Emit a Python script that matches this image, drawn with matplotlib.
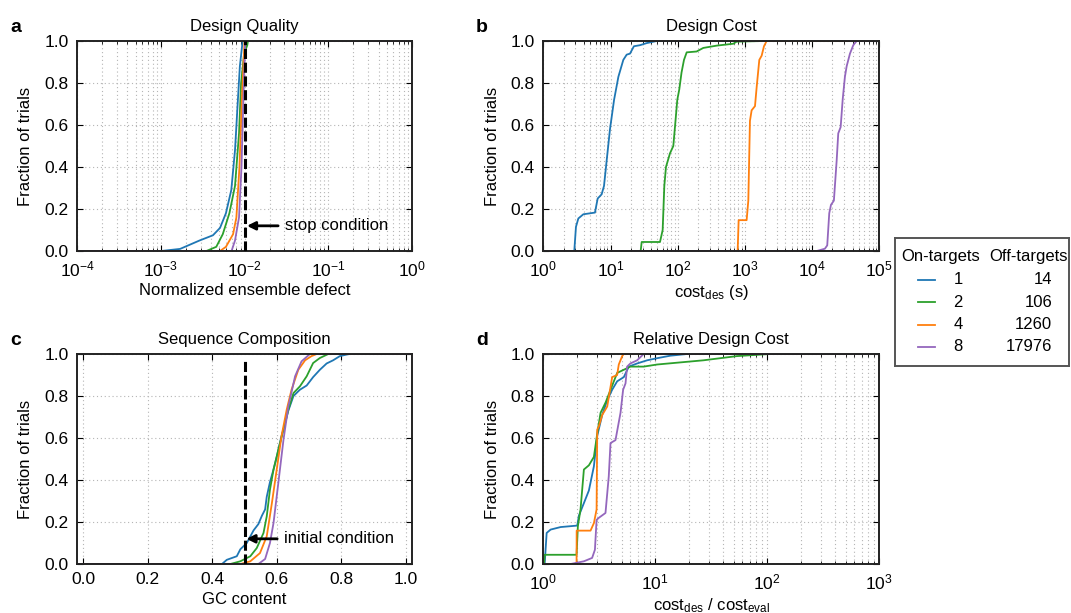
import numpy as np
import matplotlib
matplotlib.use("Agg")
import matplotlib.pyplot as plt

plt.rcParams["font.family"] = ["Liberation Sans", "DejaVu Sans"]
plt.rcParams["mathtext.fontset"] = "custom"
plt.rcParams["mathtext.rm"] = "Liberation Sans"
plt.rcParams["mathtext.it"] = "Liberation Sans:italic"
plt.rcParams["mathtext.bf"] = "Liberation Sans:bold"

colors = ["#1f77b4", "#2ca02c", "#ff7f0e", "#9467bd"]
on_targets = [1, 2, 4, 8]
off_targets = [14, 106, 1260, 17976]

# a: normalized ensemble defect (empirical CDFs)
qual_x = [
    [1.0e-3, 1.7e-3, 2.9e-3, 4.2e-3, 5.1e-3, 6.0e-3, 6.95e-3, 7.7e-3, 8.2e-3, 8.8e-3, 9.5e-3],
    [3.5e-3, 4.6e-3, 5.5e-3, 6.6e-3, 7.7e-3, 8.6e-3, 9.1e-3, 9.9e-3, 1.08e-2, 1.1e-2],
    [5.1e-3, 6.0e-3, 7.3e-3, 8.0e-3, 8.7e-3, 9.3e-3, 1.0e-2],
    [7.0e-3, 7.7e-3, 8.6e-3, 9.2e-3, 9.7e-3, 1.02e-2],
]
qual_y = [
    [0.0, 0.01, 0.05, 0.075, 0.11, 0.18, 0.29, 0.48, 0.67, 0.88, 1.0],
    [0.0, 0.02, 0.08, 0.18, 0.31, 0.56, 0.80, 0.94, 0.98, 1.0],
    [0.0, 0.02, 0.08, 0.16, 0.40, 0.72, 1.0],
    [0.0, 0.05, 0.16, 0.40, 0.72, 1.0],
]

# b: design cost in seconds
cost_x = [
    [2.89, 3.06, 3.32, 3.94, 5.87, 6.44, 7.38, 8.0, 8.76, 9.82, 11.3, 13.1, 15.5,
     17.4, 19.5, 22.3, 27.4, 34.5, 48.6],
    [28.1, 29.1, 54.5, 59.7, 63.2, 66.9, 76.7, 86.0, 91.0, 98.6, 105.6, 114, 124,
     136, 191, 240, 380, 672, 753, 1879],
    [780, 807, 1061, 1124, 1189, 1259, 1413, 1496, 1638, 1775, 1922, 2105],
    [11700, 15500, 16800, 18000, 19100, 21100, 23200, 24500, 26600, 28500, 30800,
     32700, 36600, 41000, 46000],
]
cost_y = [
    [0.0, 0.115, 0.155, 0.175, 0.183, 0.25, 0.27, 0.31, 0.43, 0.58, 0.72, 0.83, 0.91,
     0.935, 0.94, 0.975, 0.98, 0.99, 1.0],
    [0.0, 0.043, 0.043, 0.10, 0.31, 0.40, 0.465, 0.50, 0.59, 0.72, 0.77, 0.85, 0.91,
     0.946, 0.95, 0.967, 0.978, 0.987, 0.997, 1.0],
    [0.0, 0.147, 0.147, 0.24, 0.62, 0.67, 0.69, 0.78, 0.91, 0.93, 0.975, 1.0],
    [0.0, 0.011, 0.027, 0.18, 0.22, 0.24, 0.43, 0.56, 0.59, 0.72, 0.83, 0.88, 0.94,
     0.98, 1.0],
]

# c: GC content
gc_x = [
    [0.430, 0.445, 0.476, 0.487, 0.507, 0.528, 0.543, 0.554, 0.564, 0.569, 0.579,
     0.590, 0.600, 0.615, 0.626, 0.636, 0.652, 0.672, 0.693, 0.713, 0.734, 0.755,
     0.775, 0.796, 0.816, 0.827],
    [0.456, 0.487, 0.518, 0.538, 0.559, 0.569, 0.579, 0.590, 0.605, 0.621, 0.636,
     0.652, 0.672, 0.693, 0.713, 0.734, 0.760],
    [0.487, 0.518, 0.548, 0.569, 0.585, 0.600, 0.615, 0.631, 0.646, 0.667, 0.688,
     0.708, 0.724],
    [0.543, 0.564, 0.579, 0.590, 0.605, 0.621, 0.636, 0.657, 0.677, 0.703],
]
gc_y = [
    [0.0, 0.02, 0.037, 0.07, 0.10, 0.16, 0.19, 0.23, 0.26, 0.32, 0.39, 0.45, 0.51,
     0.61, 0.67, 0.73, 0.80, 0.83, 0.85, 0.89, 0.925, 0.955, 0.97, 0.99, 0.997, 1.0],
    [0.0, 0.013, 0.037, 0.076, 0.148, 0.227, 0.354, 0.449, 0.544, 0.64, 0.735, 0.814,
     0.846, 0.894, 0.957, 0.981, 1.0],
    [0.0, 0.013, 0.052, 0.132, 0.29, 0.45, 0.61, 0.735, 0.83, 0.925, 0.97, 0.99, 1.0],
    [0.0, 0.024, 0.10, 0.195, 0.386, 0.592, 0.75, 0.894, 0.965, 1.0],
]

# d: design cost relative to a single evaluation
rel_x = [
    [1.028, 1.071, 1.162, 1.427, 2.009, 2.078, 2.303, 2.552, 2.828, 3.028, 3.356,
     3.718, 4.120, 4.564, 5.233, 5.799, 6.879, 8.446, 10.37, 13.63, 19.19],
    [1.014, 1.028, 1.981, 2.035, 2.149, 2.303, 2.552, 2.828, 3.028, 3.245, 3.604,
     3.985, 4.564, 5.233, 5.99, 7.87, 10.37, 26.9, 53.5, 106],
    [1.636, 1.981, 1.985, 2.64, 2.83, 2.99, 3.03, 3.13, 3.36, 3.72, 4.12, 4.56, 4.72,
     5.06, 5.23],
    [1.751, 2.303, 2.727, 2.889, 2.99, 3.13, 3.59, 3.84, 3.98, 4.41, 4.89, 5.16, 5.42,
     5.60, 5.99, 6.88, 7.87],
]
rel_y = [
    [0.0, 0.148, 0.164, 0.176, 0.183, 0.23, 0.29, 0.35, 0.465, 0.61, 0.71, 0.78, 0.83,
     0.87, 0.89, 0.94, 0.955, 0.97, 0.98, 0.992, 1.0],
    [0.0, 0.044, 0.044, 0.18, 0.26, 0.45, 0.47, 0.51, 0.62, 0.72, 0.77, 0.83, 0.91,
     0.925, 0.94, 0.94, 0.95, 0.97, 0.99, 1.0],
    [0.0, 0.0, 0.159, 0.159, 0.195, 0.26, 0.64, 0.655, 0.71, 0.75, 0.89, 0.90, 0.95,
     0.99, 1.0],
    [0.0, 0.013, 0.029, 0.068, 0.21, 0.22, 0.243, 0.417, 0.576, 0.59, 0.72, 0.83, 0.86,
     0.94, 0.955, 0.97, 1.0],
]

panels = [
    ("a", "Design Quality", "Normalized ensemble defect", qual_x, qual_y, (1e-4, 1), True),
    ("b", "Design Cost", "cost$_{\\mathrm{des}}$ (s)", cost_x, cost_y, (1, 1e5), True),
    ("c", "Sequence Composition", "GC content", gc_x, gc_y, (-0.02, 1.02), False),
    ("d", "Relative Design Cost", "cost$_{\\mathrm{des}}$ / cost$_{\\mathrm{eval}}$",
     rel_x, rel_y, (1, 1e3), True),
]

fig = plt.figure(figsize=(10.71, 6.13), dpi=100)
positions = [
    [0.0719, 0.5905, 0.3128, 0.3426],
    [0.5073, 0.5905, 0.3137, 0.3426],
    [0.0719, 0.0799, 0.3128, 0.3426],
    [0.5073, 0.0799, 0.3137, 0.3426],
]

grid_kw = dict(ls=(0, (1, 2.5)), color="#b5b5b5", lw=0.8)

axes = []
for (letter, title, xlabel, xs, ys, xlim, logx), pos in zip(panels, positions):
    ax = fig.add_axes(pos)
    if logx:
        ax.set_xscale("log")
    for x, y, c in zip(xs, ys, colors):
        # extend each CDF flat to both edges of the axis
        xx = [xlim[0]] + list(x) + [xlim[1]]
        yy = [0.0] + list(y) + [1.0]
        ax.plot(xx, yy, color=c, lw=1.3)
    ax.set_xlim(*xlim)
    ax.set_ylim(0, 1)
    ax.set_yticks([0.0, 0.2, 0.4, 0.6, 0.8, 1.0])
    ax.yaxis.set_major_formatter(matplotlib.ticker.FormatStrFormatter("%.1f"))
    if not logx:
        ax.set_xticks([0.0, 0.2, 0.4, 0.6, 0.8, 1.0])
        ax.xaxis.set_major_formatter(matplotlib.ticker.FormatStrFormatter("%.1f"))
    ax.set_axisbelow(True)
    ax.grid(True, which="major", **grid_kw)
    if logx:
        ax.grid(True, which="minor", axis="x", **grid_kw)
    ax.tick_params(which="both", direction="in", top=True, right=True,
                   labelsize=12.5, pad=6)
    ax.tick_params(which="major", length=4, width=0.8)
    ax.tick_params(which="minor", length=2, width=0.6)
    for sp in ax.spines.values():
        sp.set_linewidth(1.4)
        sp.set_color("#222222")
    ax.set_title(title, fontsize=12, pad=7)
    ax.set_xlabel(xlabel, fontsize=12, labelpad=3)
    ax.set_ylabel("Fraction of trials", fontsize=12, labelpad=8)
    ax.text(-0.2, 1.065, letter, transform=ax.transAxes, fontsize=14,
            fontweight="bold", va="center", ha="left")
    axes.append(ax)

# stop condition on the ensemble defect
ax = axes[0]
ax.plot([1e-2, 1e-2], [0, 1], color="black", lw=2.2, ls=(0, (3.3, 1.2)), zorder=5)
ax.annotate("stop condition", xy=(0.0107, 0.12), xytext=(0.0305, 0.12),
            fontsize=12, va="center", ha="left",
            arrowprops=dict(arrowstyle="-|>", color="black", lw=2,
                            mutation_scale=12, shrinkA=3, shrinkB=0))

# initial GC content
ax = axes[2]
ax.plot([0.5, 0.5], [0, 0.97], color="black", lw=2.2, ls=(0, (3.3, 1.2)), zorder=5)
ax.annotate("initial condition", xy=(0.506, 0.12), xytext=(0.623, 0.12),
            fontsize=12, va="center", ha="left",
            arrowprops=dict(arrowstyle="-|>", color="black", lw=2,
                            mutation_scale=12, shrinkA=3, shrinkB=0))

# legend drawn as a small table
lg = fig.add_axes([895 / 1071, 1 - 366 / 613, 174 / 1071, 128 / 613])
lg.set_xlim(0, 174)
lg.set_ylim(128, 0)
lg.set_xticks([])
lg.set_yticks([])
for sp in lg.spines.values():
    sp.set_linewidth(1.4)
    sp.set_color("#555555")
lg.text(46, 19, "On-targets", ha="center", va="center", fontsize=12)
lg.text(134, 19, "Off-targets", ha="center", va="center", fontsize=12)
for i, (on, off, c) in enumerate(zip(on_targets, off_targets, colors)):
    yrow = 42 + i * 22.3
    lg.plot([23, 40], [yrow, yrow], color=c, lw=1.3)
    lg.text(63, yrow, str(on), ha="center", va="center", fontsize=12)
    lg.text(157, yrow, str(off), ha="right", va="center", fontsize=12)

fig.savefig("out.png", dpi=100)
